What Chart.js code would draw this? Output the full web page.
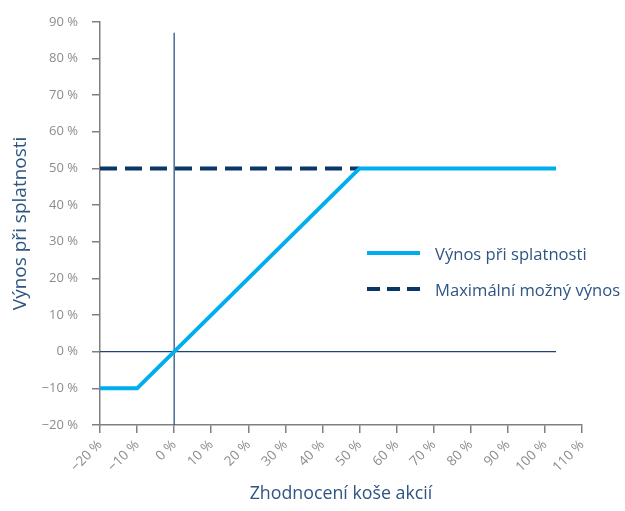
<!DOCTYPE html>
<html lang="cs">
<head>
<meta charset="utf-8">
<title>Výnos při splatnosti</title>
<script src="https://cdn.jsdelivr.net/npm/chart.js@4/dist/chart.umd.min.js"></script>
<style>
  body { margin: 0; background: #fff; }
  #wrap { position: relative; width: 625px; height: 511px; }
  #legend { position: absolute; left: 367px; top: 235px; font-family: "Open Sans", sans-serif; font-size: 16.6px; color: #2e5583; }
  .item { display: flex; align-items: center; height: 36px; }
  .swatch { width: 53px; height: 4px; margin-right: 15px; }
</style>
</head>
<body>
<div id="wrap">
  <canvas id="chart" width="625" height="511"></canvas>
  <div id="legend"></div>
</div>
<script>
// Data
const payoffLabel = "Výnos při splatnosti";
const payoffX = [-20, -10, 50, 103];
const payoffY = [-10, -10, 50, 50];

const capLabel = "Maximální možný výnos";
const capX = [-20, 50];
const capY = [50, 50];

// reference lines through zero
const zeroRowX = [-20, 103];
const zeroRowY = [0, 0];
const zeroColX = [0, 0];
const zeroColY = [-20, 87];

const xMin = -20, xMax = 110;
const yMin = -20, yMax = 90;

const xTitle = "Zhodnocení koše akcií";
const yTitle = "Výnos při splatnosti";

const lightBlue = "#00aeef";
const navy = "#0b3668";
const gray = "#808080";
const fontFamily = "'Open Sans', sans-serif";

function toPoints(xs, ys) {
  return xs.map((x, i) => ({ x: x, y: ys[i] }));
}

function pctLabel(v) {
  return (v < 0 ? "\u2212" + Math.abs(v) : v) + " %";
}

const ctx = document.getElementById("chart").getContext("2d");
const chart = new Chart(ctx, {
  type: "line",
  data: {
    datasets: [
      {
        label: "",
        data: toPoints(zeroRowX, zeroRowY),
        borderColor: "#1c4474",
        borderWidth: 1.2,
        pointRadius: 0,
        order: 3,
      },
      {
        label: "",
        data: toPoints(zeroColX, zeroColY),
        borderColor: "#1c4474",
        borderWidth: 1.2,
        pointRadius: 0,
        order: 3,
      },
      {
        label: capLabel,
        data: toPoints(capX, capY),
        borderColor: navy,
        borderWidth: 4,
        borderDash: [17, 8],
        pointRadius: 0,
        order: 2,
      },
      {
        label: payoffLabel,
        data: toPoints(payoffX, payoffY),
        borderColor: lightBlue,
        borderWidth: 4,
        pointRadius: 0,
        order: 1,
      },
    ],
  },
  options: {
    responsive: false,
    animation: false,
    layout: { padding: { top: 21, right: 43, left: 0, bottom: 0 } },
    plugins: {
      legend: { display: false },
      tooltip: { enabled: false },
    },
    scales: {
      x: {
        type: "linear",
        min: xMin,
        max: xMax,
        afterFit: (scale) => { scale.height = 86; },
        border: { color: gray, width: 1.5 },
        grid: { drawOnChartArea: false, color: gray, tickLength: 8, lineWidth: 1.5 },
        ticks: {
          stepSize: 10,
          minRotation: 45,
          maxRotation: 45,
          color: "#8c8c8c",
          font: { family: fontFamily, size: 13.5 },
          padding: 4,
          callback: (v) => pctLabel(v),
        },
        title: {
          display: true,
          text: xTitle,
          color: "#2e5583",
          font: { family: fontFamily, size: 17.8 },
          padding: { top: 0, bottom: 6 },
        },
      },
      y: {
        type: "linear",
        min: yMin,
        max: yMax,
        afterFit: (scale) => { scale.width = 100; },
        border: { color: gray, width: 1.5 },
        grid: { drawOnChartArea: false, color: gray, tickLength: 8, lineWidth: 1.5 },
        ticks: {
          stepSize: 10,
          color: "#8c8c8c",
          font: { family: fontFamily, size: 13 },
          padding: 14,
          callback: (v) => pctLabel(v),
        },
        title: {
          display: true,
          text: yTitle,
          color: "#2e5583",
          font: { family: fontFamily, size: 19 },
          padding: { top: 9, bottom: 0 },
        },
      },
    },
  },
});

// HTML legend built from the labelled datasets
const legend = document.getElementById("legend");
chart.data.datasets
  .filter((ds) => ds.label)
  .sort((a, b) => a.order - b.order)
  .forEach((ds) => {
    const item = document.createElement("div");
    item.className = "item";
    const swatch = document.createElement("span");
    swatch.className = "swatch";
    swatch.style.background = ds.borderDash
      ? "repeating-linear-gradient(to right, " + ds.borderColor + " 0 13px, transparent 13px 20px)"
      : ds.borderColor;
    const text = document.createElement("span");
    text.textContent = ds.label;
    item.appendChild(swatch);
    item.appendChild(text);
    legend.appendChild(item);
  });
</script>
</body>
</html>
